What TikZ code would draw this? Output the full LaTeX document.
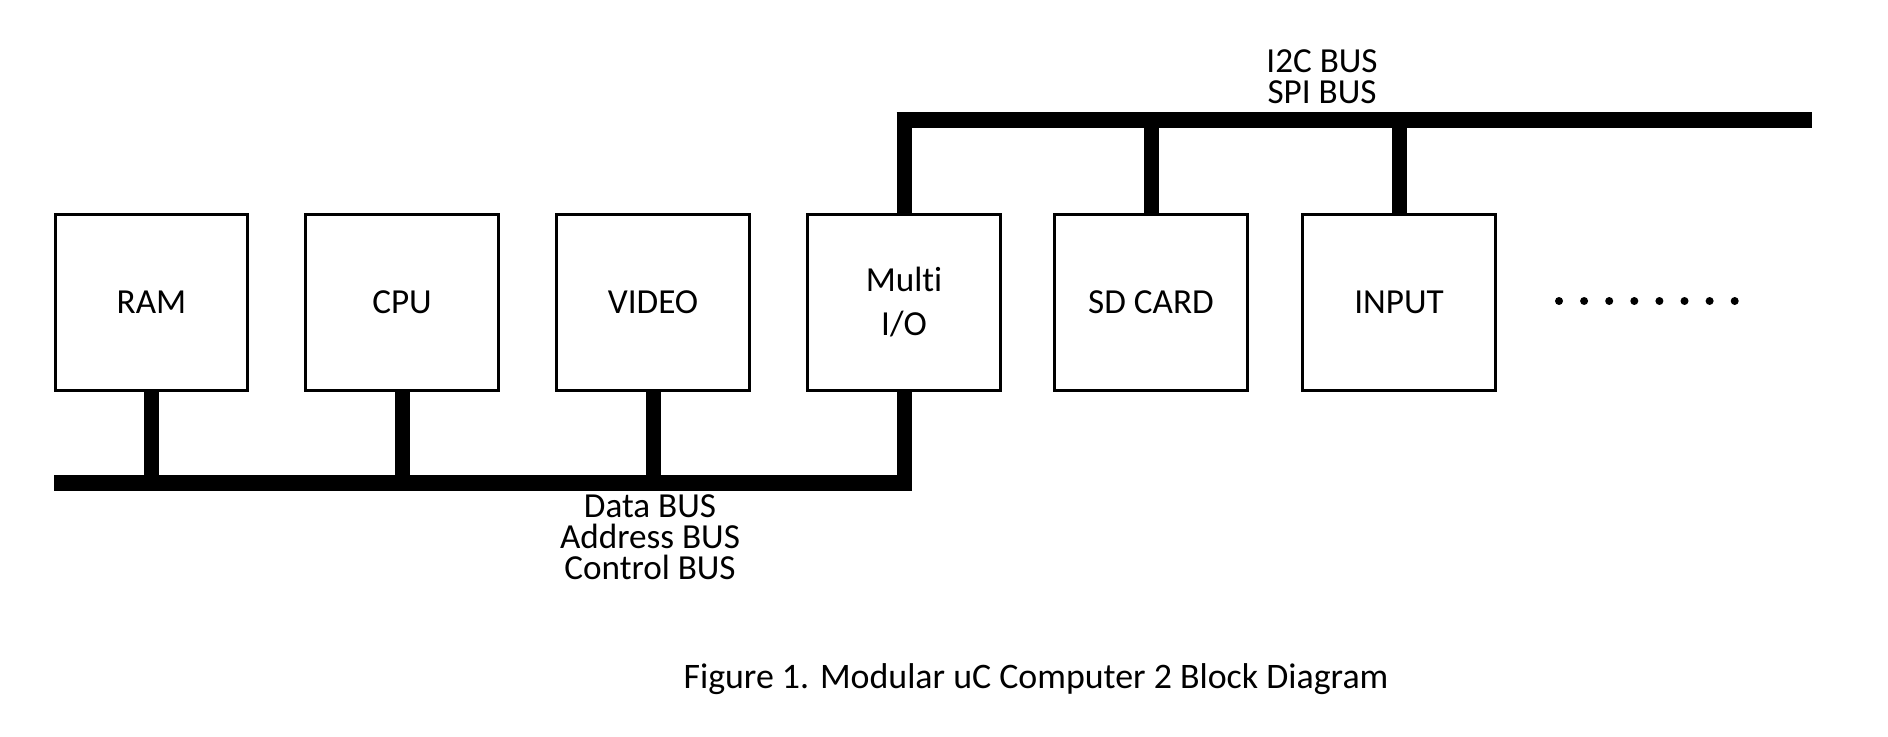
\documentclass[tikz,border=0pt]{standalone}
\usepackage{fontspec}
\setmainfont{Carlito}[Ligatures=NoCommon]
\begin{document}
\begin{tikzpicture}[x=0.01cm,y=-0.01cm,
  box/.style={draw,line width=0.03cm,minimum width=1.92cm,minimum height=1.76cm,inner sep=0pt,align=center,font=\fontsize{10pt}{12.5pt}\selectfont},
  bus/.style={line width=0.16cm},
  stub/.style={line width=0.15cm},
  lbl/.style={align=center,inner sep=0pt,font=\fontsize{10pt}{8.8pt}\selectfont},
  captext/.style={inner sep=0pt,font=\fontsize{10.2pt}{12pt}\selectfont},
  dotmark/.style={fill=black}]
\useasboundingbox (0,0) rectangle (1888,736);
% modules
\node[box] (ram)   at (151.5,302.5) {RAM};
\node[box] (cpu)   at (402,302.5) {CPU};
\node[box] (video) at (653,302.5) {VIDEO};
\node[box] (mio)   at (904,302.5) {Multi\\I/O};
\node[box] (sd)    at (1151,302.5) {SD CARD};
\node[box] (inp)   at (1399,302.5) {INPUT};
% bus end points
\coordinate (dbL) at (54,483);
\coordinate (dbR) at (911.5,483);
\coordinate (ibL) at (896.5,120);
\coordinate (ibR) at (1812,120);
% parallel bus
\draw[bus] (dbL) -- (dbR);
\draw[stub] (ram.south) -- (ram.south |- dbL);
\draw[stub] (cpu.south) -- (cpu.south |- dbL);
\draw[stub] (video.south) -- (video.south |- dbL);
\draw[stub] (mio.south) -- (mio.south |- dbL);
% serial bus
\draw[bus] (ibL) -- (ibR);
\draw[stub] (mio.north) -- (mio.north |- ibL);
\draw[stub] (sd.north) -- (sd.north |- ibL);
\draw[stub] (inp.north) -- (inp.north |- ibL);
% labels
\node[lbl] (serlbl) at (1322,77) {I2C BUS\\SPI BUS};
\node[lbl] (parlbl) at (650,537) {Data BUS\\Address BUS\\Control BUS};
\node[captext] (caption) at (1036,679) {Figure 1. Modular uC Computer 2 Block Diagram};
% continuation dots
\foreach \i in {0,...,7}
  \fill[dotmark] (1559+25.1*\i,301) circle (4);
\end{tikzpicture}
\end{document}
